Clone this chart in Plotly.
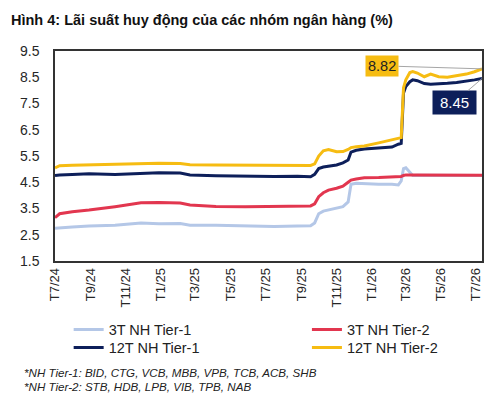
import plotly.graph_objects as go

# ngày quan sát (thưa ở đoạn phẳng, dày ở đoạn nhảy)
dates = ["2024-07-01", "2024-07-09", "2024-07-31", "2024-08-29", "2024-10-13",
         "2024-11-27", "2024-12-28", "2025-02-03", "2025-02-20", "2025-04-06",
         "2025-05-27", "2025-07-16", "2025-08-25", "2025-09-17", "2025-09-24",
         "2025-10-01", "2025-10-09", "2025-10-18", "2025-11-01", "2025-11-12",
         "2025-11-21", "2025-11-26", "2025-12-05", "2025-12-19", "2026-01-13",
         "2026-02-05", "2026-02-16", "2026-02-21", "2026-02-25", "2026-03-01",
         "2026-03-08", "2026-03-13", "2026-03-21", "2026-04-02", "2026-04-13",
         "2026-04-27", "2026-05-12", "2026-05-28", "2026-06-14", "2026-06-28",
         "2026-07-11"]

t3_tier1 = [2.75, 2.77, 2.80, 2.83, 2.86, 2.95, 2.92, 2.93, 2.86, 2.86,
            2.83, 2.81, 2.83, 2.84, 2.95, 3.30, 3.40, 3.44, 3.50, 3.57,
            3.75, 4.42, 4.46, 4.44, 4.42, 4.42, 4.40, 4.55, 5.02, 5.05,
            4.88, 4.76, 4.77, 4.77, 4.77, 4.77, 4.76, 4.76, 4.76, 4.76,
            4.76]
t3_tier2 = [3.15, 3.30, 3.38, 3.44, 3.57, 3.72, 3.73, 3.71, 3.63, 3.58,
            3.57, 3.58, 3.60, 3.60, 3.68, 3.95, 4.10, 4.20, 4.27, 4.35,
            4.50, 4.58, 4.62, 4.67, 4.68, 4.69, 4.69, 4.72, 4.76, 4.78,
            4.78, 4.78, 4.78, 4.78, 4.77, 4.77, 4.77, 4.77, 4.77, 4.77,
            4.77]
t12_tier1 = [4.76, 4.78, 4.80, 4.82, 4.80, 4.85, 4.86, 4.85, 4.78, 4.75,
             4.73, 4.72, 4.73, 4.71, 4.80, 5.02, 5.08, 5.12, 5.16, 5.24,
             5.35, 5.65, 5.72, 5.77, 5.80, 5.84, 5.95, 5.98, 7.90, 8.15,
             8.33, 8.40, 8.37, 8.26, 8.23, 8.24, 8.27, 8.30, 8.34, 8.40,
             8.45]
t12_tier2 = [5.05, 5.13, 5.15, 5.16, 5.20, 5.22, 5.22, 5.21, 5.17, 5.16,
             5.15, 5.15, 5.15, 5.14, 5.20, 5.50, 5.70, 5.75, 5.66, 5.67,
             5.75, 5.82, 5.85, 5.88, 6.00, 6.12, 6.15, 6.20, 8.10, 8.40,
             8.68, 8.72, 8.66, 8.52, 8.62, 8.52, 8.50, 8.55, 8.62, 8.71,
             8.82]

tick_dates = ["2024-07-01", "2024-09-01", "2024-11-01", "2025-01-01", "2025-03-01",
              "2025-05-01", "2025-07-01", "2025-09-01", "2025-11-01", "2026-01-01",
              "2026-03-01", "2026-05-01", "2026-07-01"]
tick_labels = ["T7/24", "T9/24", "T11/24", "T1/25", "T3/25", "T5/25", "T7/25",
               "T9/25", "T11/25", "T1/26", "T3/26", "T5/26", "T7/26"]
y_ticks = [1.5, 2.5, 3.5, 4.5, 5.5, 6.5, 7.5, 8.5, 9.5]

FONT = "Liberation Sans, Arial, sans-serif"
C_LB = "#B4C7E7"
C_RED = "#E2364F"
C_NAVY = "#0D1F5A"
C_YEL = "#F6BC12"

# trang html có lề body 8px, nên khung hình nhỏ hơn 8px mỗi chiều
W, H = 492, 394

fig = go.Figure()
fig.add_trace(go.Scatter(x=dates, y=t3_tier1, mode="lines", name="3T NH Tier-1",
                         line=dict(color=C_LB, width=3), legend="legend"))
fig.add_trace(go.Scatter(x=dates, y=t3_tier2, mode="lines", name="3T NH Tier-2",
                         line=dict(color=C_RED, width=3), legend="legend2"))
fig.add_trace(go.Scatter(x=dates, y=t12_tier1, mode="lines", name="12T NH Tier-1",
                         line=dict(color=C_NAVY, width=3), legend="legend3"))
fig.add_trace(go.Scatter(x=dates, y=t12_tier2, mode="lines", name="12T NH Tier-2",
                         line=dict(color=C_YEL, width=3), legend="legend4"))

# nhãn giá trị cuối kỳ
fig.add_annotation(x=dates[-1], y=t12_tier2[-1], text=f"{t12_tier2[-1]:.2f}",
                   showarrow=True, arrowhead=0, arrowwidth=1, arrowcolor="#A6A6A6",
                   ax=-100, ay=-3, bgcolor=C_YEL, borderpad=2,
                   font=dict(family=FONT, size=14.5, color="#222222"))
fig.add_annotation(x=dates[-1], y=t12_tier1[-1], text=f"{t12_tier1[-1]:.2f}",
                   showarrow=True, arrowhead=0, arrowwidth=1, arrowcolor="#A6A6A6",
                   ax=-28, ay=24, bgcolor=C_NAVY, borderpad=3, width=37,
                   font=dict(family=FONT, size=15, color="white"))

# chú thích nhóm ngân hàng
fig.add_annotation(xref="paper", yref="paper", x=-0.078, y=-0.533, xanchor="left",
                   yanchor="middle", showarrow=False,
                   text="<i>*NH Tier-1: BID, CTG, VCB, MBB, VPB, TCB, ACB, SHB</i>",
                   font=dict(family=FONT, size=11.6, color="#222222"))
fig.add_annotation(xref="paper", yref="paper", x=-0.078, y=-0.597, xanchor="left",
                   yanchor="middle", showarrow=False,
                   text="<i>*NH Tier-2: STB, HDB, LPB, VIB, TPB, NAB</i>",
                   font=dict(family=FONT, size=11.6, color="#222222"))

legend_style = dict(orientation="v", yanchor="top", xanchor="left",
                    bgcolor="rgba(0,0,0,0)", font=dict(family=FONT, size=14.5, color="#222222"),
                    tracegroupgap=0, itemwidth=30)

fig.update_layout(
    width=W, height=H,
    margin=dict(l=37, r=18, t=43, b=141),
    paper_bgcolor="white", plot_bgcolor="white",
    font=dict(family=FONT, color="#262626"),
    showlegend=True,
    title=dict(text="<b>Hình 4: Lãi suất huy động của các nhóm ngân hàng (%)</b>",
               xref="container", yref="container", x=3 / W, xanchor="left",
               y=1 - 12 / H, yanchor="middle", font=dict(family=FONT, size=14.5, color="#111111")),
    legend=dict(x=0.032, y=-0.25, **legend_style),
    legend2=dict(x=0.59, y=-0.25, **legend_style),
    legend3=dict(x=0.032, y=-0.336, **legend_style),
    legend4=dict(x=0.59, y=-0.336, **legend_style),
    xaxis=dict(type="date", range=["2024-07-01", "2026-07-11"],
               tickvals=tick_dates, ticktext=tick_labels, tickangle=-90,
               tickfont=dict(family=FONT, size=13, color="#262626"),
               showgrid=False, zeroline=False, ticks="",
               showline=True, linecolor="#333333", linewidth=1.5, mirror=True),
    yaxis=dict(range=[1.5, 9.5], tickvals=y_ticks, ticktext=[f"{v:.1f}" for v in y_ticks],
               tickfont=dict(family=FONT, size=14, color="#262626"),
               showgrid=False, zeroline=False, ticks="", ticklabelstandoff=11,
               showline=True, linecolor="#333333", linewidth=1.5, mirror=True),
)

fig.write_html("out.html")
